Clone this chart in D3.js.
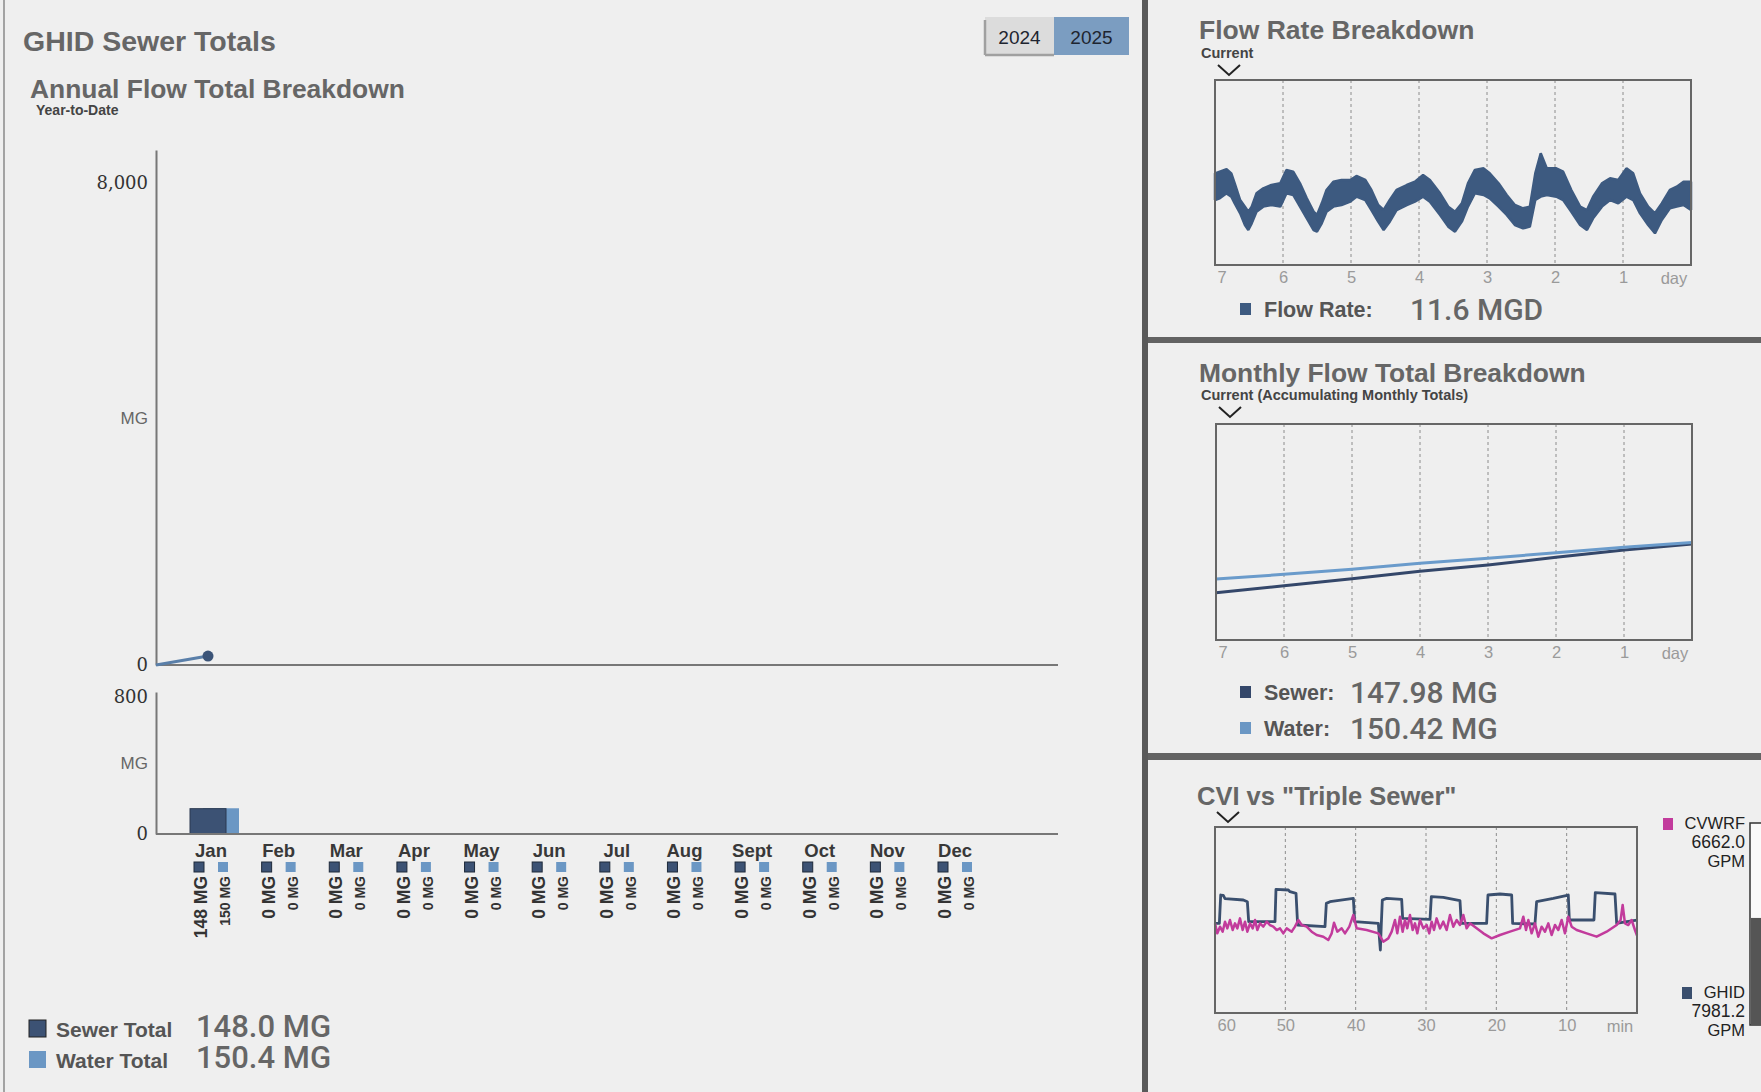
<!DOCTYPE html>
<html>
<head>
<meta charset="utf-8">
<script src="https://cdn.jsdelivr.net/npm/d3@7/dist/d3.min.js"></script>
<style>
  html, body { margin:0; padding:0; background:#efefef; overflow:hidden; }
  svg { display:block; font-family:"Liberation Sans", Arial, sans-serif; }
</style>
</head>
<body>
<svg id="dash" width="1761" height="1092"></svg>
<script>
// ---- data ----
const years = ['2024','2025'];
const months = ['Jan','Feb','Mar','Apr','May','Jun','Jul','Aug','Sept','Oct','Nov','Dec'];
const sewerMonthly = [147.98,0,0,0,0,0,0,0,0,0,0,0];
const waterMonthly = [150.42,0,0,0,0,0,0,0,0,0,0,0];
const annualCumulative = [147.98]; // 2025 so far: Jan only
const annualTicks = [0, 8000];
const barTicks = [0, 800];

// flow rate, last 7 days (MGD): upper / lower edge of the noisy trace
const flowDays = [7.00,6.93,6.83,6.76,6.71,6.63,6.56,6.51,6.46,6.39,6.29,6.17,6.04,5.95,5.85,5.75,5.65,5.55,5.50,5.43,
  5.36,5.26,5.14,5.01,4.92,4.79,4.70,4.60,4.52,4.43,4.33,4.18,4.06,3.94,3.84,3.69,3.57,3.47,3.37,3.28,
  3.18,3.05,2.96,2.83,2.71,2.59,2.47,2.37,2.29,2.21,2.12,1.98,1.88,1.76,1.63,1.53,1.44,1.31,1.19,1.07,
  0.95,0.85,0.75,0.63,0.53,0.43,0.31,0.21,0.11,0.00];
const flowHigh = [16.35,16.65,17.07,16.35,14.57,11.59,10.41,9.51,10.41,12.78,13.68,14.27,14.57,16.95,16.65,14.57,11.89,9.51,8.92,11.00,
  13.38,14.86,15.16,15.16,15.88,15.16,13.38,10.70,9.81,11.59,13.38,14.27,14.86,16.05,15.16,12.78,10.41,9.51,11.00,14.57,
  16.95,17.24,16.35,14.57,12.49,10.70,10.11,10.41,16.35,19.92,17.24,17.24,16.65,13.38,10.41,9.81,12.19,14.57,15.46,15.16,
  17.24,16.35,12.78,10.41,9.22,11.00,13.38,13.97,14.86,14.86];
const flowLow = [11.59,11.89,12.78,12.19,11.00,9.22,7.14,6.24,7.43,9.51,10.41,10.70,10.41,12.78,12.49,10.41,8.32,6.24,5.95,7.43,
  9.51,10.41,10.70,11.30,12.19,11.59,9.81,7.73,6.24,7.73,9.81,10.70,11.30,12.19,11.30,8.92,6.84,5.95,7.73,10.41,
  12.78,12.49,11.89,10.41,8.92,7.14,6.54,6.84,11.59,12.19,12.49,12.19,11.59,9.51,7.14,6.24,8.32,10.41,11.59,11.00,
  12.19,11.59,9.22,7.14,5.65,8.03,10.11,10.41,10.70,9.81];
const flowNow = '11.6 MGD';

// accumulating monthly totals (MG)
const accDays = [7,6,5,4,3,2,1,0];
const accSewer = [72.9,83.7,94.5,105.9,115.6,127.5,138.8,147.98];
const accWater = [94.0,101.2,108.9,118.2,125.9,134.6,142.9,150.42];

// CVI vs triple sewer, last 60 minutes (GPM)
const ghidMin = [60.00,59.38,59.19,58.82,58.58,55.97,55.40,55.21,51.47,51.33,49.57,49.34,48.48,48.25,44.36,44.17,43.65,40.33,40.14,36.78,
  36.64,36.49,36.35,36.21,35.59,33.46,33.32,29.43,29.24,27.54,25.17,24.98,21.38,21.19,19.48,17.82,17.68,14.51,14.27,11.90,
  9.77,9.62,6.12,5.93,3.13,2.89,1.47,0.00];
const ghidGpm = [7712,7712,10149,10121,9834,9719,9576,7856,7856,10637,10579,10436,10293,7569,7426,9432,9576,9862,7856,7712,
  6565,5419,7712,9719,9862,9776,8142,8056,10006,9948,9662,7712,7712,10149,10235,10149,7712,7655,9576,9862,
  10149,7999,7999,10350,10235,7712,7856,7981];
const cvwrfMin = [60.00,59.67,59.29,58.91,58.58,58.25,57.87,57.49,57.16,56.82,56.45,56.07,55.73,55.40,55.02,54.64,54.31,53.98,53.60,53.13,
  52.65,52.18,51.71,51.23,50.76,50.29,49.81,49.10,48.63,48.15,47.68,46.97,46.26,45.55,44.60,43.89,43.41,43.08,42.61,41.99,
  41.52,40.90,40.33,39.86,38.44,36.78,36.07,35.36,34.88,34.41,34.08,33.70,33.32,32.99,32.66,32.28,31.90,31.57,31.23,30.86,
  30.38,29.91,29.53,29.20,28.86,28.49,28.01,27.54,27.06,26.59,26.12,25.64,25.17,24.69,24.22,23.75,22.80,21.85,20.67,19.48,
  18.06,16.64,16.16,15.78,15.45,14.98,14.51,14.03,13.56,13.08,12.61,12.14,11.66,11.19,10.71,10.24,9.77,9.29,8.58,7.16,
  5.74,4.32,2.89,2.33,2.04,1.71,1.24,0.76,0.29,0.00];
const cvwrfGpm = [7712,6852,7426,6995,7856,7282,7999,7139,7712,7282,8142,7139,7856,6995,7712,7282,7999,7139,7712,7426,
  7856,7569,7426,7139,7282,6852,7282,6995,7426,7999,7569,7426,6995,6709,6565,6279,6852,7770,6995,7282,
  6852,7426,8429,7282,7139,6852,6135,6422,6995,7999,6852,8286,6995,7999,7282,8429,7139,7712,6852,7999,
  7282,7569,6852,7856,7139,8142,7282,7856,7139,8429,7426,7999,7569,8429,7282,7712,7282,6852,6422,6709,
  6995,7282,8286,7139,7999,6852,7712,6565,7426,6995,7712,6709,7569,7139,7999,6852,8286,7426,7139,6852,
  6565,6995,7569,7999,9289,7712,7569,7999,7139,6662];
const gaugeLevel = 53; // percent

const dayTicks = [7,6,5,4,3,2,1];
const minTicks = [60,50,40,30,20,10];

// ---- colours ----
const cSewer = '#3c5274';
const cWater = '#6b97c4';
const cFlow = '#3d5a80';
const cCvwrf = '#c23b9c';
const cTitle = '#666';

const svg = d3.select('#dash');

// ---- page chrome ----
svg.append('rect').attr('width',1761).attr('height',1092).attr('fill','#efefef');
svg.append('line').attr('x1',4).attr('x2',4).attr('y1',0).attr('y2',1092)
  .attr('stroke','#8a8a8a').attr('stroke-width',1.5);
svg.append('rect').attr('x',1142).attr('y',0).attr('width',6).attr('height',1092).attr('fill','#5a5a5a');
svg.append('rect').attr('x',1148).attr('y',337).attr('width',613).attr('height',6).attr('fill','#636363');
svg.append('rect').attr('x',1148).attr('y',753).attr('width',613).attr('height',7).attr('fill','#636363');

function title(x, y, txt, size){
  return svg.append('text').attr('x',x).attr('y',y).text(txt)
    .attr('font-size',size).attr('font-weight','bold').attr('fill',cTitle);
}
function sub(x, y, txt){
  return svg.append('text').attr('x',x).attr('y',y).text(txt)
    .attr('font-size',14.5).attr('font-weight','bold').attr('fill','#444');
}
function chevron(cx, top){
  svg.append('polyline')
    .attr('points',`${cx-11},${top} ${cx},${top+10} ${cx+11},${top}`)
    .attr('fill','none').attr('stroke','#222').attr('stroke-width',2);
}

// ---- left panel ----
title(23, 51, 'GHID Sewer Totals', 28.5);
title(30, 98, 'Annual Flow Total Breakdown', 26.4);
sub(36, 115, 'Year-to-Date').attr('font-size',14);

// year buttons
const btn = svg.append('g').selectAll('g').data(years).join('g');
btn.append('rect')
  .attr('x',(d,i)=> i ? 1054 : 985).attr('y',17)
  .attr('width',(d,i)=> i ? 75 : 69).attr('height',38)
  .attr('fill',(d,i)=> i ? '#7b9dc1' : '#dcdcdc');
btn.filter((d,i)=>i===0).append('path')
  .attr('d','M985,55 L1054,55 M985,20 L985,55')
  .attr('stroke','#a0a0a0').attr('stroke-width',2.5);
btn.append('text')
  .attr('x',(d,i)=> i ? 1091.5 : 1019.5).attr('y',44)
  .attr('text-anchor','middle').attr('font-size',19).attr('fill','#1e2530')
  .text(d=>d);

// annual cumulative chart
const annual = {left:156, right:1058, top:150, base:665};
const xMonth = d3.scalePoint().domain(months).range([208, 952]);
const yAnnual = d3.scaleLinear().domain([0, 8550]).range([annual.base, annual.top]);

function styleAxis(g){
  g.select('.domain').attr('stroke','#777').attr('stroke-width',2);
  g.selectAll('text').attr('font-family','"DejaVu Serif", serif').attr('font-size',18).attr('fill','#333');
}
svg.append('g').attr('transform',`translate(${annual.left},0)`)
  .call(d3.axisLeft(yAnnual).tickValues(annualTicks).tickSize(0).tickSizeOuter(0).tickPadding(8).tickFormat(d3.format(',')))
  .call(styleAxis);
svg.append('line').attr('x1',annual.left).attr('x2',annual.right)
  .attr('y1',annual.base).attr('y2',annual.base).attr('stroke','#777').attr('stroke-width',2);
svg.append('text').attr('x',148).attr('y',424).attr('text-anchor','end')
  .attr('font-size',17).attr('fill','#666').text('MG');

const cumPts = [{x:annual.left, v:0}].concat(annualCumulative.map((v,i)=>({x:xMonth(months[i]), v})));
svg.append('path').datum(cumPts)
  .attr('d', d3.line().x(d=>d.x).y(d=>yAnnual(d.v)))
  .attr('fill','none').attr('stroke','#5a7fa9').attr('stroke-width',3);
svg.append('circle').datum(cumPts[cumPts.length-1])
  .attr('cx',d=>d.x).attr('cy',d=>yAnnual(d.v)).attr('r',5.5).attr('fill','#3b5478');

// monthly bars
const bars = {top:692, base:834};
const yBar = d3.scaleLinear().domain([0, 830]).range([bars.base, bars.top]);
svg.append('g').attr('transform',`translate(${annual.left},0)`)
  .call(d3.axisLeft(yBar).tickValues(barTicks).tickSize(0).tickSizeOuter(0).tickPadding(8))
  .call(styleAxis);
svg.append('text').attr('x',148).attr('y',769).attr('text-anchor','end')
  .attr('font-size',17).attr('fill','#666').text('MG');

const monthData = months.map((m,i)=>({m, sewer:sewerMonthly[i], water:waterMonthly[i]}));
const mg = svg.append('g').selectAll('g').data(monthData).join('g')
  .attr('transform',d=>`translate(${xMonth(d.m)},0)`);
mg.append('rect').attr('x',-5).attr('width',36)
  .attr('y',d=>yBar(d.water)).attr('height',d=>bars.base-yBar(d.water)).attr('fill',cWater);
mg.append('rect').attr('x',-18).attr('width',36)
  .attr('y',d=>yBar(d.sewer)).attr('height',d=>bars.base-yBar(d.sewer))
  .attr('fill',cSewer).attr('stroke',d=>d.sewer>0 ? '#2a3850' : 'none');
svg.append('line').attr('x1',annual.left).attr('x2',annual.right)
  .attr('y1',bars.base).attr('y2',bars.base).attr('stroke','#777').attr('stroke-width',2);

mg.append('text').attr('x',3).attr('y',857).attr('text-anchor','middle')
  .attr('font-size',18.5).attr('font-weight','bold').attr('fill','#383838').text(d=>d.m);
mg.append('rect').attr('x',-14).attr('y',862).attr('width',10).attr('height',10)
  .attr('fill',cSewer).attr('stroke','#1f2a3a').attr('stroke-width',1);
mg.append('rect').attr('x',10).attr('y',862).attr('width',10).attr('height',10).attr('fill',cWater);
mg.append('text').attr('transform','translate(-1,876) rotate(-90)').attr('text-anchor','end')
  .attr('font-size',17.5).attr('font-weight','bold').attr('fill','#333')
  .text(d=>`${Math.round(d.sewer)} MG`);
mg.append('text').attr('transform','translate(22,876) rotate(-90)').attr('text-anchor','end')
  .attr('font-size',14).attr('font-weight','bold').attr('fill','#333')
  .text(d=>`${Math.round(d.water)} MG`);

// totals legend
const totals = [
  {label:'Sewer Total', value:d3.sum(sewerMonthly), color:cSewer, y:1037},
  {label:'Water Total', value:d3.sum(waterMonthly), color:cWater, y:1068}
];
const tg = svg.append('g').selectAll('g').data(totals).join('g');
tg.append('rect').attr('x',29).attr('y',d=>d.y-17).attr('width',17).attr('height',17)
  .attr('fill',d=>d.color).attr('stroke',(d,i)=> i ? 'none' : '#222');
tg.append('text').attr('x',56).attr('y',d=>d.y).attr('font-size',21).attr('font-weight','bold')
  .attr('fill','#555').text(d=>d.label);
tg.append('text').attr('x',196).attr('y',d=>d.y).attr('font-size',31).attr('font-family','Roboto')
  .attr('font-weight',500).attr('fill','#666').text(d=>`${d.value.toFixed(1)} MG`);

// ---- right panels ----
function frame(box, x, ticks, unit){
  const g = svg.append('g');
  g.selectAll('line.grid').data(ticks.slice(1)).join('line').attr('class','grid')
    .attr('x1',d=>x(d)).attr('x2',d=>x(d)).attr('y1',box.top).attr('y2',box.bottom)
    .attr('stroke','#8c8c8c').attr('stroke-width',1).attr('stroke-dasharray','3,3');
  const ax = g.append('g').attr('transform',`translate(0,${box.bottom})`)
    .call(d3.axisBottom(x).tickValues(ticks).tickSize(0).tickPadding(6).tickFormat(d3.format('d')));
  ax.select('.domain').remove();
  ax.selectAll('text').attr('font-family','"Liberation Sans", Arial, sans-serif')
    .attr('font-size',16.5).attr('fill','#9a9a9a');
  ax.selectAll('text').filter(d=>d===ticks[0]).attr('text-anchor','start').attr('dx',2);
  g.append('text').attr('x',box.right-17).attr('y',box.bottom+19).attr('text-anchor','middle')
    .attr('font-size',16.5).attr('fill','#9a9a9a').text(unit);
  return g;
}
function border(box){
  svg.append('rect').attr('x',box.left).attr('y',box.top)
    .attr('width',box.right-box.left).attr('height',box.bottom-box.top)
    .attr('fill','none').attr('stroke','#666').attr('stroke-width',2);
}
function legendRow(x, y, color, label, value, valueX){
  svg.append('rect').attr('x',x).attr('y',y-14).attr('width',11).attr('height',12).attr('fill',color);
  svg.append('text').attr('x',x+24).attr('y',y).attr('font-size',21.5).attr('font-weight','bold')
    .attr('fill','#555').text(label);
  svg.append('text').attr('x',valueX).attr('y',y+3).attr('font-size',30).attr('font-family','Roboto')
    .attr('font-weight',500).attr('fill','#666').text(value);
}

// flow rate
title(1199, 39, 'Flow Rate Breakdown', 26.5);
sub(1201, 58, 'Current');
chevron(1229, 65);
const flowBox = {left:1215, right:1691, top:80, bottom:265};
const xDay1 = d3.scaleLinear().domain([7,0]).range([flowBox.left, flowBox.right]);
const yFlow = d3.scaleLinear().domain([0,33]).range([flowBox.bottom, flowBox.top]);
frame(flowBox, xDay1, dayTicks, 'day');
const flowData = flowDays.map((d,i)=>({d, hi:flowHigh[i], lo:flowLow[i]}));
svg.append('path').datum(flowData)
  .attr('d', d3.area().x(d=>xDay1(d.d)).y0(d=>yFlow(d.lo)).y1(d=>yFlow(d.hi)))
  .attr('fill',cFlow).attr('stroke',cFlow).attr('stroke-width',2.5).attr('stroke-linejoin','bevel');
border(flowBox);
legendRow(1240, 317, cFlow, 'Flow Rate:', flowNow, 1410);

// monthly flow totals
title(1199, 382, 'Monthly Flow Total Breakdown', 26.4);
sub(1201, 400, 'Current (Accumulating Monthly Totals)');
chevron(1230, 407);
const accBox = {left:1216, right:1692, top:424, bottom:640};
const xDay2 = d3.scaleLinear().domain([7,0]).range([accBox.left, accBox.right]);
const yAcc = d3.scaleLinear().domain([0,333]).range([accBox.bottom, accBox.top]);
frame(accBox, xDay2, dayTicks, 'day');
const accLine = vals => d3.line().x((d,i)=>xDay2(accDays[i])).y(d=>yAcc(d))(vals);
svg.append('path').attr('d',accLine(accSewer)).attr('fill','none').attr('stroke','#34476a').attr('stroke-width',3);
svg.append('path').attr('d',accLine(accWater)).attr('fill','none').attr('stroke','#6a9bcb').attr('stroke-width',3);
border(accBox);
legendRow(1240, 700, '#34476a', 'Sewer:', `${accSewer[accSewer.length-1].toFixed(2)} MG`, 1350);
legendRow(1240, 736, cWater, 'Water:', `${accWater[accWater.length-1].toFixed(2)} MG`, 1350);

// CVI vs triple sewer
title(1197, 805, 'CVI vs "Triple Sewer"', 25.5);
chevron(1228, 812);
const cviBox = {left:1215, right:1637, top:827, bottom:1013};
const xMin = d3.scaleLinear().domain([60,0]).range([cviBox.left, cviBox.right]);
const yGpm = d3.scaleLinear().domain([0,16000]).range([cviBox.bottom, cviBox.top]);
frame(cviBox, xMin, minTicks, 'min');
const gpmLine = (mins, vals) => d3.line().x((d,i)=>xMin(mins[i])).y(d=>yGpm(d))(vals);
svg.append('path').attr('d',gpmLine(ghidMin, ghidGpm)).attr('fill','none')
  .attr('stroke','#3a4f6e').attr('stroke-width',2.8).attr('stroke-linejoin','round');
svg.append('path').attr('d',gpmLine(cvwrfMin, cvwrfGpm)).attr('fill','none')
  .attr('stroke',cCvwrf).attr('stroke-width',2.5).attr('stroke-linejoin','round');
border(cviBox);

const cviLegend = [
  {name:'CVWRF', val:cvwrfGpm[cvwrfGpm.length-1], color:cCvwrf, y:829, sq:1663},
  {name:'GHID', val:7981.2, color:'#3a4f6e', y:998, sq:1682}
];
const cl = svg.append('g').selectAll('g').data(cviLegend).join('g').attr('fill','#222').attr('font-size',16.5);
cl.append('rect').attr('x',d=>d.sq).attr('y',d=>d.y-11).attr('width',10).attr('height',12).attr('fill',d=>d.color);
cl.append('text').attr('x',1745).attr('y',d=>d.y).attr('text-anchor','end').text(d=>d.name);
cl.append('text').attr('x',1745).attr('y',d=>d.y+19).attr('text-anchor','end').attr('font-size',17.5).text(d=>d.val.toFixed(1));
cl.append('text').attr('x',1745).attr('y',d=>d.y+38).attr('text-anchor','end').text('GPM');

// level gauge at the right edge
const yGauge = d3.scaleLinear().domain([0,100]).range([1025, 823]);
svg.append('rect').attr('x',1750).attr('y',yGauge(100)).attr('width',20).attr('height',yGauge(0)-yGauge(100))
  .attr('fill','#fafafa').attr('stroke','#333').attr('stroke-width',1.5);
svg.append('rect').attr('x',1751).attr('y',yGauge(gaugeLevel)).attr('width',20).attr('height',yGauge(0)-yGauge(gaugeLevel))
  .attr('fill','#555');
</script>
</body>
</html>
